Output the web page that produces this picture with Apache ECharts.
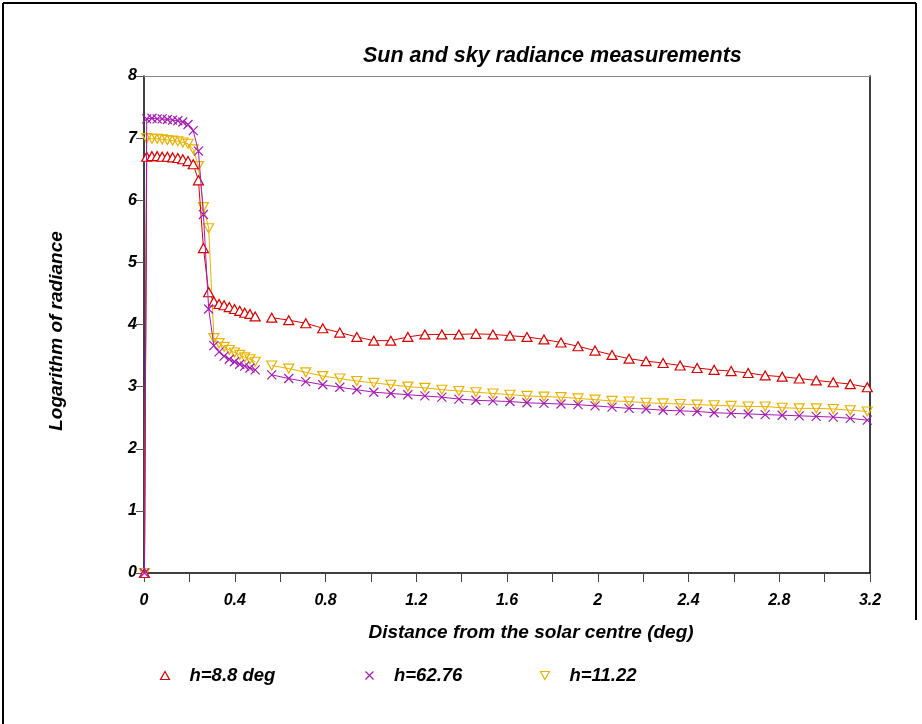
<!DOCTYPE html>
<html>
<head>
<meta charset="utf-8">
<script src="https://cdn.jsdelivr.net/npm/echarts@6/dist/echarts.min.js"></script>
<style>
html,body{margin:0;padding:0;background:#fff;}
#chart{width:922px;height:724px;}
</style>
</head>
<body>
<div id="chart"></div>
<script>
// ---- data ----
var seriesNames = ['h=8.8 deg', 'h=62.76', 'h=11.22'];

// near-sun scan (deg)
var xNear = [0.002, 0.012, 0.035, 0.058, 0.08, 0.103, 0.126, 0.149, 0.171, 0.194, 0.217, 0.24,
             0.262, 0.285, 0.308, 0.331, 0.353, 0.376, 0.399, 0.422, 0.444, 0.467, 0.49];
// sky scan (deg)
var xFar = [0.563, 0.638, 0.713, 0.788, 0.863, 0.938, 1.013, 1.088, 1.163, 1.238, 1.313, 1.388,
            1.463, 1.538, 1.613, 1.688, 1.763, 1.838, 1.913, 1.988, 2.063, 2.138, 2.213, 2.288,
            2.363, 2.438, 2.513, 2.588, 2.663, 2.738, 2.813, 2.888, 2.963, 3.038, 3.113, 3.188];
var xGap = 0.525;

var redNear = [0, 6.70, 6.71, 6.71, 6.70, 6.70, 6.69, 6.68, 6.66, 6.63, 6.58, 6.32, 5.23, 4.52,
               4.37, 4.33, 4.31, 4.28, 4.25, 4.22, 4.19, 4.17, 4.13];
var redFar = [4.11, 4.07, 4.02, 3.94, 3.87, 3.80, 3.74, 3.74, 3.80, 3.84, 3.84, 3.84, 3.85, 3.84,
              3.82, 3.80, 3.76, 3.71, 3.65, 3.58, 3.51, 3.45, 3.41, 3.38, 3.34, 3.30, 3.27, 3.25,
              3.22, 3.18, 3.16, 3.13, 3.10, 3.07, 3.04, 2.99];

var purpleNear = [0, 7.31, 7.32, 7.31, 7.31, 7.30, 7.29, 7.28, 7.26, 7.22, 7.12, 6.79, 5.77, 4.25,
                  3.66, 3.56, 3.49, 3.44, 3.40, 3.36, 3.33, 3.30, 3.27];
var purpleFar = [3.19, 3.13, 3.08, 3.03, 2.99, 2.95, 2.91, 2.89, 2.87, 2.85, 2.83, 2.80, 2.78, 2.77,
                 2.76, 2.74, 2.73, 2.72, 2.71, 2.69, 2.67, 2.65, 2.64, 2.62, 2.61, 2.60, 2.58, 2.57,
                 2.56, 2.55, 2.54, 2.53, 2.52, 2.51, 2.49, 2.46];

var orangeNear = [0, 7.00, 6.99, 6.99, 6.98, 6.97, 6.96, 6.95, 6.93, 6.91, 6.82, 6.55, 5.89, 5.55,
                  3.78, 3.70, 3.64, 3.59, 3.55, 3.51, 3.47, 3.44, 3.40];
var orangeFar = [3.34, 3.29, 3.23, 3.17, 3.13, 3.09, 3.06, 3.03, 3.00, 2.98, 2.95, 2.93, 2.91, 2.89,
                 2.87, 2.85, 2.84, 2.83, 2.81, 2.79, 2.77, 2.76, 2.74, 2.73, 2.72, 2.71, 2.70, 2.69,
                 2.68, 2.68, 2.66, 2.65, 2.65, 2.64, 2.62, 2.60];

var xTickLabels = ['0', '0.4', '0.8', '1.2', '1.6', '2', '2.4', '2.8', '3.2'];
// --------------------------------------

function pairs(near, far) {
  var out = [];
  for (var i = 0; i < xNear.length; i++) out.push([xNear[i], near[i]]);
  out.push([xGap, '-']);
  for (var j = 0; j < xFar.length; j++) out.push([xFar[j], far[j]]);
  return out;
}

var RED = '#d40000', PURPLE = '#a21caf', GOLD = '#e8b200';
var FONT = "'Liberation Sans', Arial, sans-serif";
var crossPath = 'path://M0,0L10,10M10,0L0,10';
var downTriPath = 'path://M0,0L10,0L5,9Z';

function txt(size) {
  return {fontFamily: FONT, fontWeight: 'bold', fontStyle: 'italic', fontSize: size, color: '#000'};
}

var chart = echarts.init(document.getElementById('chart'), null, {renderer: 'canvas'});

var option = {
  animation: false,
  backgroundColor: '#fff',
  title: {
    text: 'Sun and sky radiance measurements',
    left: 358, top: 40,
    textStyle: txt(21.5)
  },
  grid: {left: 144, right: 52, top: 76, bottom: 151, containLabel: false},
  legend: [0, 1, 2].map(function (i) {
    var icons = ['triangle', crossPath, downTriPath];
    var cols = [RED, PURPLE, GOLD];
    var lefts = [153, 358, 533];
    return {
      left: lefts[i], top: 661,
      itemWidth: 9, itemHeight: 8,
      itemGap: 0,
      selectedMode: false,
      data: [{
        name: seriesNames[i],
        icon: icons[i],
        itemStyle: {color: 'none', borderColor: cols[i], borderWidth: 1.2}
      }],
      textStyle: Object.assign(txt(18.5), {padding: [0, 0, 0, 15]})
    };
  }),
  xAxis: [{
    type: 'value', min: 0, max: 3.2, interval: 0.2,
    name: 'Distance from the solar centre (deg)',
    nameLocation: 'middle', nameGap: 50,
    nameTextStyle: Object.assign(txt(19), {padding: [0, 0, 0, 48]}),
    axisLine: {show: true, onZero: false, lineStyle: {color: '#000', width: 1.5}},
    axisTick: {show: true, inside: false, length: 9, lineStyle: {color: '#444', width: 1}},
    axisLabel: {
      margin: 20,
      formatter: function (v) {
        var r = Math.round(v * 10) / 10;
        var idx = Math.round(r / 0.4 * 1000) / 1000;
        if (Math.abs(idx - Math.round(idx)) < 1e-6) return xTickLabels[Math.round(idx)];
        return '';
      },
      textStyle: txt(16)
    },
    splitLine: {show: false}
  }, {
    type: 'value', min: 0, max: 3.2, position: 'top',
    axisLine: {show: true, onZero: false, lineStyle: {color: '#888', width: 1}},
    axisTick: {show: false}, axisLabel: {show: false}, splitLine: {show: false}
  }],
  yAxis: [{
    type: 'value', min: 0, max: 8, interval: 1,
    name: 'Logarithm of radiance',
    nameLocation: 'middle', nameGap: 78,
    nameTextStyle: Object.assign(txt(19), {padding: [0, 13, 0, 0]}),
    axisLine: {show: true, onZero: false, lineStyle: {color: '#000', width: 1.5}},
    axisTick: {show: true, inside: false, length: 8, lineStyle: {color: '#555', width: 1}},
    axisLabel: {margin: 7, textStyle: txt(16)},
    splitLine: {show: false}
  }, {
    type: 'value', min: 0, max: 8, position: 'right',
    axisLine: {show: true, onZero: false, lineStyle: {color: '#000', width: 1.5}},
    axisTick: {show: false}, axisLabel: {show: false}, splitLine: {show: false}
  }],
  graphic: [
    {type: 'line', shape: {x1: 3, y1: 3, x2: 916, y2: 3}, style: {stroke: '#000', lineWidth: 2}},
    {type: 'line', shape: {x1: 3, y1: 3, x2: 3, y2: 724}, style: {stroke: '#000', lineWidth: 2}},
    {type: 'line', shape: {x1: 916, y1: 3, x2: 916, y2: 620}, style: {stroke: '#000', lineWidth: 2}}
  ],
  series: [{
    name: seriesNames[0], type: 'line', data: pairs(redNear, redFar),
    connectNulls: false, showAllSymbol: true,
    symbol: 'triangle', symbolSize: [10, 9],
    lineStyle: {color: RED, width: 1},
    itemStyle: {color: '#fff', borderColor: RED, borderWidth: 1.2},
    z: 3
  }, {
    name: seriesNames[1], type: 'line', data: pairs(purpleNear, purpleFar),
    connectNulls: false, showAllSymbol: true,
    symbol: crossPath, symbolSize: 9,
    lineStyle: {color: PURPLE, width: 1},
    itemStyle: {color: 'none', borderColor: PURPLE, borderWidth: 1.2},
    z: 4
  }, {
    name: seriesNames[2], type: 'line', data: pairs(orangeNear, orangeFar),
    connectNulls: false, showAllSymbol: true,
    symbol: 'triangle', symbolRotate: 180, symbolSize: [10, 9],
    lineStyle: {color: GOLD, width: 1},
    itemStyle: {color: 'none', borderColor: GOLD, borderWidth: 1.2},
    z: 2
  }]
};
chart.setOption(option);
</script>
</body>
</html>
